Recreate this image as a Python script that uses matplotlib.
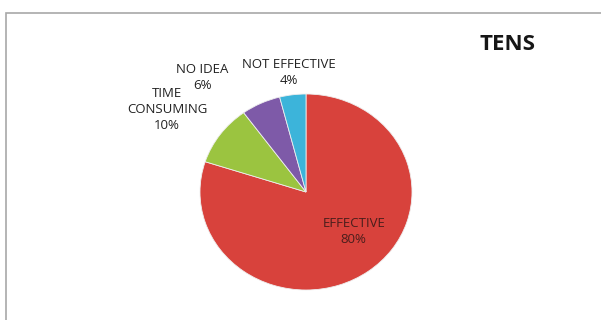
import matplotlib
matplotlib.use('Agg')
import matplotlib.pyplot as plt
from matplotlib.patches import Rectangle

categories = ['EFFECTIVE', 'TIME\nCONSUMING', 'NO IDEA', 'NOT EFFECTIVE']
percent = [80, 10, 6, 4]
colors = ['#D8423C', '#9BC440', '#7E5AA8', '#3CB4DA']

# label centres in pie units (radius 1), picked by eye
label_pos = [(0.45, -0.40), (-1.31, 0.84), (-0.98, 1.17), (-0.16, 1.22)]
label_colors = ['#4a1e1c', '#222222', '#222222', '#222222']

plt.rcParams['font.family'] = ['Open Sans', 'DejaVu Sans']

fig = plt.figure(figsize=(6.01, 3.2), dpi=100)
fig.patch.set_facecolor('white')
ax = fig.add_axes([0, 0, 1, 1])

wedges, _ = ax.pie(percent, colors=colors, startangle=90, counterclock=False,
                   radius=1, center=(0, 0),
                   wedgeprops=dict(edgecolor='#eeeeee', linewidth=0.6))

for name, val, (x, y), c in zip(categories, percent, label_pos, label_colors):
    ax.text(x, y, f'{name}\n{val}%', ha='center', va='center', fontsize=9.5,
            color=c, linespacing=1.3)

# pie is a touch wider than tall in the reference
ax.set_aspect('auto')
ax.set_xlim(-306 / 106, (601 - 306) / 106)
ax.set_ylim(-(320 - 192) / 98, 192 / 98)
ax.axis('off')

fig.text(507 / 601, 1 - 44 / 320, 'TENS', ha='center', va='center',
         fontsize=16, fontweight='bold', color='#161616')

fig.patches.append(Rectangle((6 / 601, -0.1), 1.0, 1 - 13 / 320 + 0.1,
                             transform=fig.transFigure, fill=False,
                             edgecolor='#a8a8a8', linewidth=1.2))

fig.savefig('out.png', dpi=100)
